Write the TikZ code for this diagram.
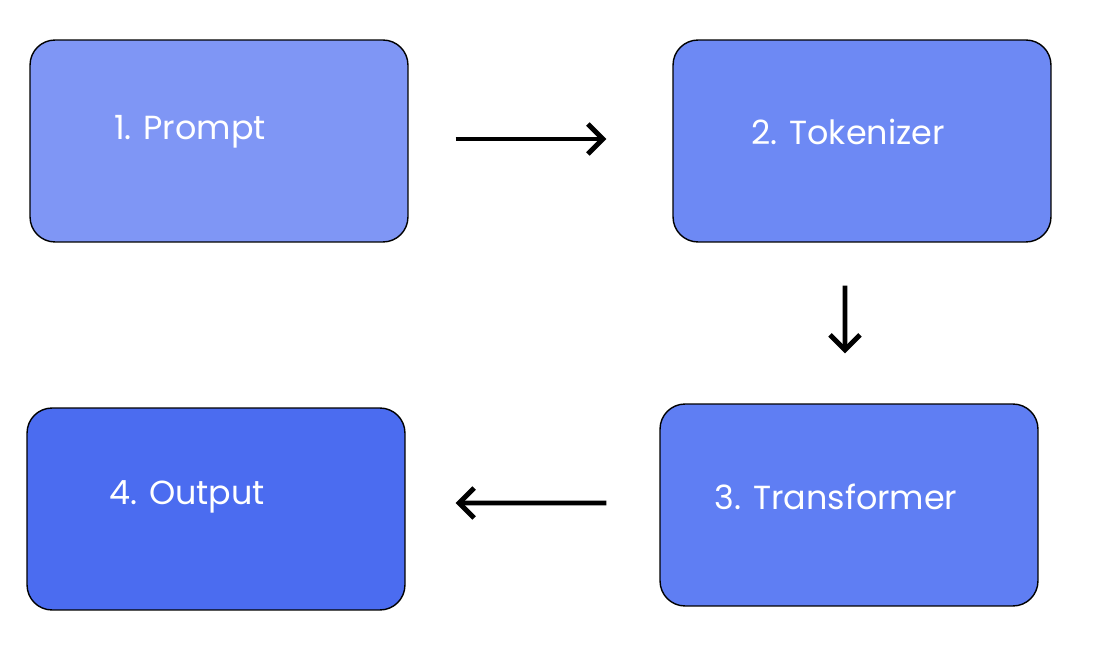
\documentclass[tikz,border=0pt]{standalone}
\usepackage{fontspec}
\setmainfont{Poppins}
\usetikzlibrary{arrows.meta,positioning}
\definecolor{boxA}{HTML}{7F96F5}
\definecolor{boxB}{HTML}{6D89F4}
\definecolor{boxC}{HTML}{5F7EF3}
\definecolor{boxD}{HTML}{4B6CF0}

\begin{document}
\begin{tikzpicture}[
    x=0.02cm, y=-0.02cm,
    stage/.style={rectangle, draw=black, thick, rounded corners=0.5cm, minimum width=7.56cm, minimum height=4.04cm},
    caption/.style={text=white, font=\fontsize{19}{23}\selectfont},
    arrow/.style={-{Straight Barb[length=3mm,width=6mm]}, line width=2.8pt}
]
    \useasboundingbox (0,0) rectangle (1099,648);

    % Stages
    \node[stage, fill=boxA] (prompt) at (219,141) {};
    \node[stage, fill=boxB] (token) at (862,141) {};
    \node[stage, fill=boxC] (trans) at (849,505) {};
    \node[stage, fill=boxD] (output) at (216,509) {};

    % Labels
    \node[caption] (promptlbl) at (190,132) {1. Prompt};
    \node[caption] (tokenlbl) at (848,132) {2. Tokenizer};
    \node[caption] (translbl) at (836,497) {3. Transformer};
    \node[caption] (outputlbl) at (187,497) {4. Output};

    % Arrows
    \draw[arrow] ([xshift=0.94cm,yshift=0.04cm]prompt.east) -- ([xshift=-1.32cm,yshift=0.04cm]token.west);
    \draw[arrow] ([yshift=-0.86cm,xshift=-0.34cm]token.south) -- ([yshift=1.0cm,xshift=-0.08cm]trans.north);
    \draw[arrow] ([xshift=-1.06cm,yshift=0.04cm]trans.west) -- ([xshift=1.0cm,yshift=0.12cm]output.east);
\end{tikzpicture}
\end{document}
